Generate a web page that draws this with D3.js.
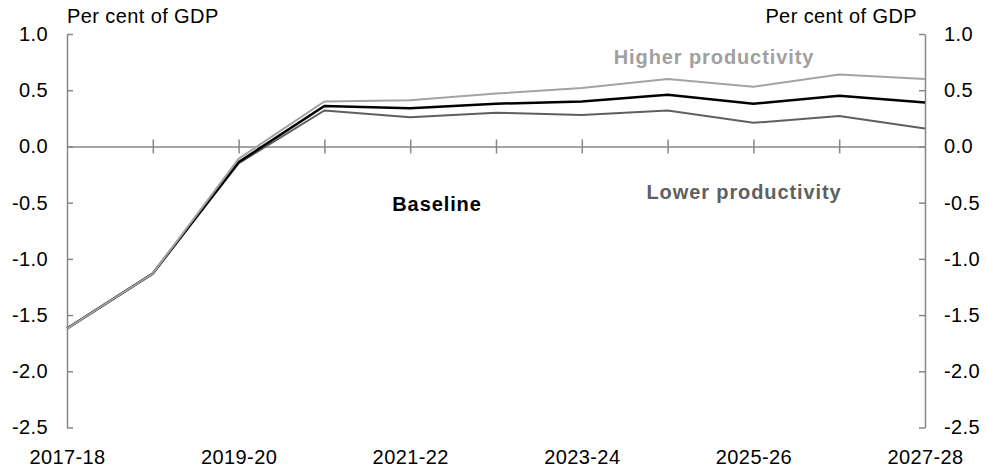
<!doctype html>
<html lang="en">
<head>
  <meta charset="utf-8">
  <title>Per cent of GDP</title>
  <script src="https://cdn.jsdelivr.net/npm/d3@7"></script>
  <style>
    body { margin: 0; background: #fff; }
    text { font-family: "Liberation Sans", Arial, sans-serif; fill: #000; }
  </style>
</head>
<body>
  <div id="container"></div>
<script>
  // Data.
  const years = ['2017-18', '2018-19', '2019-20', '2020-21', '2021-22', '2022-23',
    '2023-24', '2024-25', '2025-26', '2026-27', '2027-28'];
  const baseline = [-1.62, -1.13, -0.14, 0.36, 0.34, 0.38, 0.40, 0.46, 0.38, 0.45, 0.39];
  const higher = [-1.62, -1.13, -0.11, 0.40, 0.41, 0.47, 0.52, 0.60, 0.53, 0.64, 0.60];
  const lower = [-1.62, -1.13, -0.15, 0.32, 0.26, 0.30, 0.28, 0.32, 0.21, 0.27, 0.16];
  const yTicks = [1.0, 0.5, 0.0, -0.5, -1.0, -1.5, -2.0, -2.5];
  const xLabels = ['2017-18', '2019-20', '2021-22', '2023-24', '2025-26', '2027-28'];

  const width = 986, height = 472;
  const plotLeft = 67, plotRight = 925, plotTop = 34, plotBottom = 427.5;
  const axisGrey = '#878787';
  const fmt = d => d.toFixed(1);   // plain hyphen for negatives, as in the original

  const svg = d3.select('#container')
    .append('svg')
    .attr('width', width)
    .attr('height', height);

  const x = d3.scalePoint().domain(years).range([plotLeft, plotRight]);
  const y = d3.scaleLinear().domain([-2.5, 1.0]).range([plotBottom, plotTop]);

  // Left axis, ticks point inward.
  const gl = svg.append('g')
    .attr('transform', `translate(${plotLeft},0)`)
    .call(d3.axisLeft(y).tickValues(yTicks).tickFormat(fmt)
      .tickSizeInner(-6).tickSizeOuter(0).tickPadding(19));

  // Right axis.
  const gr = svg.append('g')
    .attr('transform', `translate(${plotRight},0)`)
    .call(d3.axisRight(y).tickValues(yTicks).tickFormat(fmt)
      .tickSizeInner(-6).tickSizeOuter(0).tickPadding(19));

  // Zero line with crossing ticks.
  const gz = svg.append('g')
    .attr('transform', `translate(0,${y(0)})`)
    .call(d3.axisBottom(x).tickValues(years.slice(1, -1)).tickFormat('')
      .tickSizeInner(7).tickSizeOuter(0));
  gz.selectAll('.tick line').attr('y1', -7).attr('y2', 7);

  // Category labels along the bottom.
  const gb = svg.append('g')
    .attr('transform', `translate(0,${plotBottom})`)
    .call(d3.axisBottom(x).tickValues(xLabels).tickSize(0).tickPadding(22));
  gb.select('.domain').remove();

  [gl, gr, gz].forEach(g => {
    g.selectAll('.domain, .tick line').attr('stroke', axisGrey).attr('stroke-width', 1.5);
  });
  svg.selectAll('.tick text')
    .attr('font-size', 20)
    .attr('font-family', '"Liberation Sans", Arial, sans-serif')
    .attr('letter-spacing', 0.4)
    .attr('fill', '#000');

  // Lines.
  const line = d3.line()
    .x((d, i) => x(years[i]))
    .y(d => y(d));

  svg.append('path').datum(lower)
    .attr('d', line).attr('fill', 'none')
    .attr('stroke', '#5f5f5f').attr('stroke-width', 2);
  svg.append('path').datum(baseline)
    .attr('d', line).attr('fill', 'none')
    .attr('stroke', '#000').attr('stroke-width', 2.5);
  svg.append('path').datum(higher)
    .attr('d', line).attr('fill', 'none')
    .attr('stroke', '#a3a3a3').attr('stroke-width', 2);

  // Titles.
  svg.append('text')
    .attr('x', plotLeft).attr('y', 23)
    .attr('font-size', 20)
    .attr('letter-spacing', 0.4)
    .text('Per cent of GDP');
  svg.append('text')
    .attr('x', 917).attr('y', 23)
    .attr('text-anchor', 'end')
    .attr('font-size', 20)
    .attr('letter-spacing', 0.4)
    .text('Per cent of GDP');

  // Series labels.
  svg.append('text')
    .attr('x', 437).attr('y', 211)
    .attr('text-anchor', 'middle')
    .attr('font-size', 20).attr('font-weight', 'bold')
    .attr('letter-spacing', 0.9)
    .text('Baseline');
  svg.append('text')
    .attr('x', 714).attr('y', 64)
    .attr('text-anchor', 'middle')
    .attr('font-size', 20).attr('font-weight', 'bold')
    .attr('letter-spacing', 0.9)
    .style('fill', '#a0a0a0')
    .text('Higher productivity');
  svg.append('text')
    .attr('x', 744).attr('y', 199)
    .attr('text-anchor', 'middle')
    .attr('font-size', 20).attr('font-weight', 'bold')
    .attr('letter-spacing', 0.9)
    .style('fill', '#606060')
    .text('Lower productivity');
</script>
</body>
</html>
